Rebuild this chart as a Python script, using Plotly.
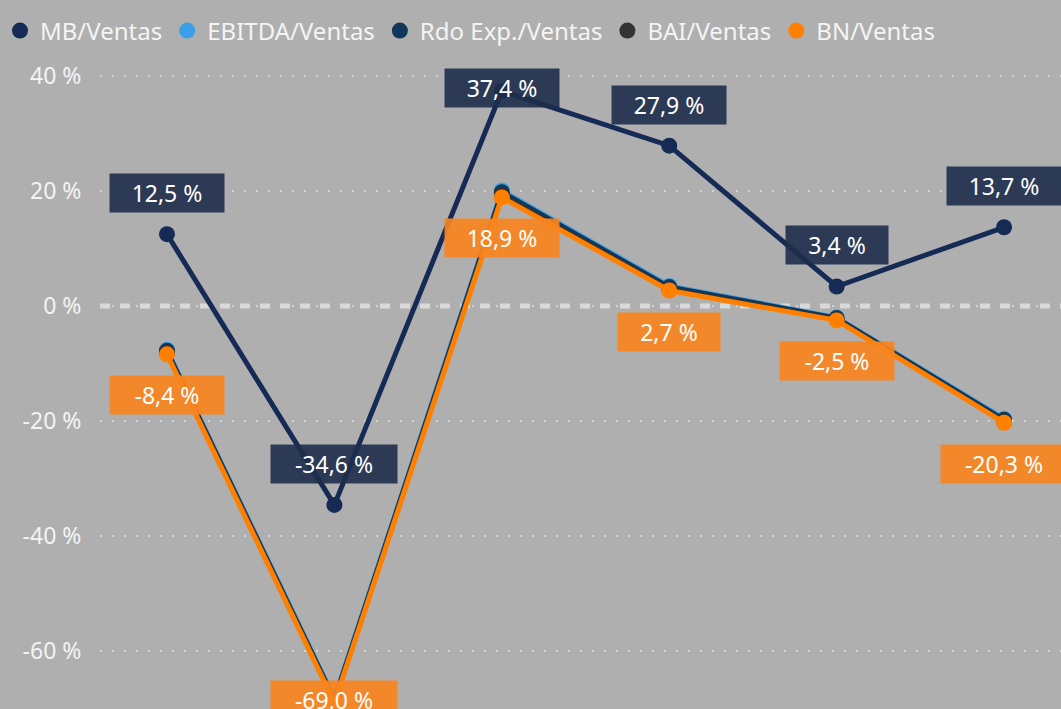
import plotly.graph_objects as go

periods = ["P1", "P2", "P3", "P4", "P5", "P6"]
series_names = ["MB/Ventas", "EBITDA/Ventas", "Rdo Exp./Ventas", "BAI/Ventas", "BN/Ventas"]
mb = [12.5, -34.6, 37.4, 27.9, 3.4, 13.7]
ebitda = [-7.6, -68.3, 20.1, 3.5, -2.0, -19.6]
rdo_exp = [-7.8, -68.5, 19.8, 3.3, -2.1, -19.8]
bai = [-8.1, -68.8, 19.3, 2.9, -2.3, -20.1]
bn = [-8.4, -69.0, 18.9, 2.7, -2.5, -20.3]
colors = ["#152B55", "#3BA0E9", "#10375A", "#333333", "#FF7F00"]
label_series = {"MB/Ventas": 1, "BN/Ventas": -1}
label_bg = {"MB/Ventas": "rgba(30,45,75,0.9)", "BN/Ventas": "rgba(248,132,30,0.92)"}
tick_vals = [-60, -40, -20, 0, 20, 40]
tick_text = ["-60 %", "-40 %", "-20 %", "0 %", "20 %", "40 %"]

Y_MIN, Y_MAX = -70.1, 42.8
FIG_H, M_TOP, M_BOT = 709, 60, 0
PPU = (FIG_H - M_TOP - M_BOT) / (Y_MAX - Y_MIN)
LABEL_OFFSET, LABEL_ROOM = 41, 70

values = [mb, ebitda, rdo_exp, bai, bn]
xs = list(range(len(periods)))

fig = go.Figure()
for name, vals, col in zip(series_names, values, colors):
    fig.add_trace(go.Scatter(
        x=xs, y=vals, mode="lines+markers", name=name,
        line=dict(color=col, width=5),
        marker=dict(color=col, size=16),
        showlegend=False, legendgroup=name, hoverinfo="skip"))
for name, col in zip(series_names, colors):
    fig.add_trace(go.Scatter(
        x=[None], y=[None], mode="markers", name=name,
        marker=dict(color=col, size=19), legendgroup=name, showlegend=True))

def fmt(v):
    return f"{v:.1f}".replace(".", ",") + " %"

for name, vals in zip(series_names, values):
    if name not in label_series:
        continue
    direction = label_series[name]
    for x, v in zip(xs, vals):
        t = fmt(v)
        room = (Y_MAX - v) * PPU if direction > 0 else (v - Y_MIN) * PPU
        shift = direction * LABEL_OFFSET if room >= LABEL_ROOM else 3
        fig.add_annotation(
            x=x, y=v, xref="x", yref="y", text=t, showarrow=False,
            yshift=shift, bgcolor=label_bg[name],
            width=12 * len(t) + 42, height=38, borderpad=0,
            font=dict(color="white", size=23, family="Noto Sans"))

fig.add_shape(type="line", xref="paper", yref="y", x0=0, x1=1, y0=0, y1=0,
              line=dict(color="rgba(225,225,225,0.85)", width=5, dash="10px,10px"),
              layer="below")

fig.update_layout(
    width=1061, height=FIG_H,
    paper_bgcolor="#AFAFAF", plot_bgcolor="#AFAFAF",
    margin=dict(l=100, r=0, t=M_TOP, b=M_BOT),
    font=dict(family="Noto Sans", color="#F4F4F4", size=23),
    legend=dict(orientation="h", xref="container", yref="container",
                x=0.0, y=0.988, xanchor="left", yanchor="top",
                font=dict(size=24, color="#F4F4F4"), itemsizing="trace",
                bgcolor="rgba(0,0,0,0)", tracegroupgap=0),
    xaxis=dict(range=[-0.4, 5.34], showgrid=False, showticklabels=False,
               zeroline=False, showline=False, ticks=""),
    yaxis=dict(range=[Y_MIN, Y_MAX], tickvals=tick_vals, ticktext=tick_text,
               showgrid=True, gridcolor="rgba(215,215,215,0.9)", gridwidth=2,
               griddash="2px,10px", zeroline=False, showline=False,
               ticks="outside", ticklen=13, tickcolor="rgba(0,0,0,0)",
               tickfont=dict(size=23, color="#F4F4F4")),
    showlegend=True,
)
fig.write_html("out.html", config={"displayModeBar": False},
               post_script="document.body.style.margin='0';")
